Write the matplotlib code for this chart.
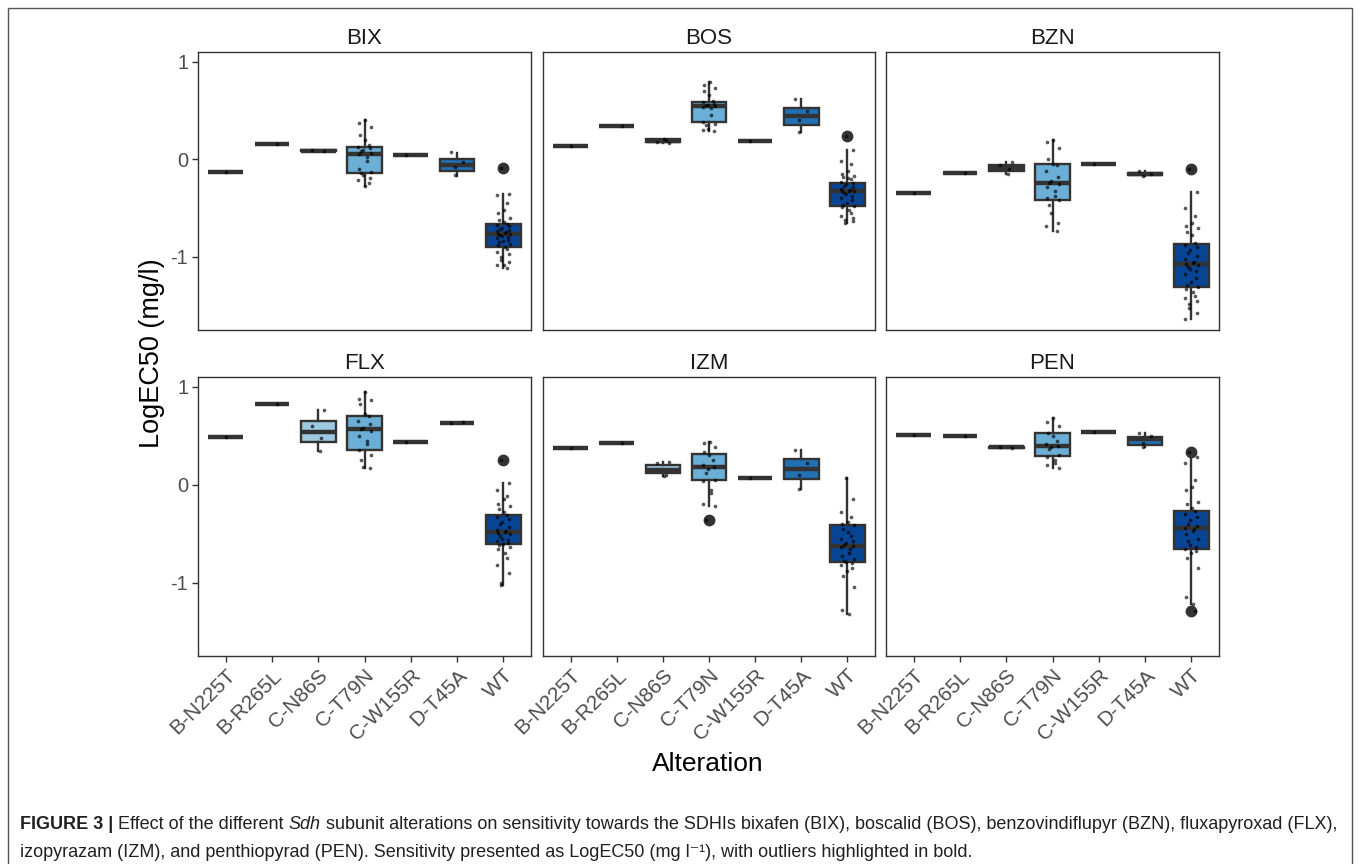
import numpy as np
import matplotlib
matplotlib.use("Agg")
import matplotlib.pyplot as plt
from matplotlib.patches import Rectangle

plt.rcParams["font.family"] = ["Liberation Sans", "DejaVu Sans"]
plt.rcParams["axes.unicode_minus"] = False

categories = ["B-N225T", "B-R265L", "C-N86S", "C-T79N", "C-W155R", "D-T45A", "WT"]
drugs = ["BIX", "BOS", "BZN", "FLX", "IZM", "PEN"]
fills = ["#eff3ff", "#c6dbef", "#9ecae1", "#6baed6", "#4292c6", "#2171b5", "#084594"]

# box stats per category: (whisker low, q1, median, q3, whisker high)
bix_box = [(-0.13, -0.13, -0.13, -0.13, -0.13), (0.16, 0.16, 0.16, 0.16, 0.16),
           (0.08, 0.085, 0.09, 0.095, 0.10), (-0.27, -0.14, 0.055, 0.13, 0.40),
           (0.04, 0.04, 0.04, 0.04, 0.04), (-0.17, -0.12, -0.055, 0.0, 0.06),
           (-1.11, -0.90, -0.77, -0.66, -0.36)]
bix_out = [[], [], [], [], [], [], [-0.09]]
bos_box = [(0.14, 0.14, 0.14, 0.14, 0.14), (0.345, 0.345, 0.345, 0.345, 0.345),
           (0.17, 0.18, 0.19, 0.205, 0.21), (0.29, 0.38, 0.545, 0.585, 0.79),
           (0.19, 0.19, 0.19, 0.19, 0.19), (0.28, 0.35, 0.445, 0.53, 0.62),
           (-0.65, -0.48, -0.32, -0.24, 0.10)]
bos_out = [[], [], [], [], [], [], [0.24]]
bzn_box = [(-0.345, -0.345, -0.345, -0.345, -0.345), (-0.14, -0.14, -0.14, -0.14, -0.14),
           (-0.15, -0.12, -0.09, -0.06, -0.03), (-0.74, -0.42, -0.245, -0.05, 0.195),
           (-0.05, -0.05, -0.05, -0.05, -0.05), (-0.17, -0.165, -0.155, -0.14, -0.12),
           (-1.64, -1.31, -1.07, -0.865, -0.335)]
bzn_out = [[], [], [], [], [], [], [-0.10]]
flx_box = [(0.485, 0.485, 0.485, 0.485, 0.485), (0.82, 0.82, 0.82, 0.82, 0.82),
           (0.34, 0.44, 0.54, 0.65, 0.76), (0.175, 0.35, 0.565, 0.70, 0.95),
           (0.44, 0.44, 0.44, 0.44, 0.44), (0.635, 0.635, 0.635, 0.635, 0.635),
           (-1.02, -0.61, -0.48, -0.31, 0.015)]
flx_out = [[], [], [], [], [], [], [0.25]]
izm_box = [(0.37, 0.37, 0.37, 0.37, 0.37), (0.43, 0.43, 0.43, 0.43, 0.43),
           (0.085, 0.12, 0.155, 0.20, 0.235), (-0.22, 0.045, 0.18, 0.31, 0.44),
           (0.065, 0.065, 0.065, 0.065, 0.065), (-0.04, 0.055, 0.16, 0.26, 0.355),
           (-1.32, -0.79, -0.63, -0.41, 0.065)]
izm_out = [[], [], [], [-0.36], [], [], []]
pen_box = [(0.51, 0.51, 0.51, 0.51, 0.51), (0.50, 0.50, 0.50, 0.50, 0.50),
           (0.37, 0.375, 0.38, 0.385, 0.39), (0.17, 0.29, 0.395, 0.525, 0.68),
           (0.54, 0.54, 0.54, 0.54, 0.54), (0.38, 0.41, 0.47, 0.49, 0.53),
           (-1.22, -0.655, -0.44, -0.265, 0.28)]
pen_out = [[], [], [], [], [], [], [0.335, -1.29]]

bix_pts = [[-0.13], [0.16], [0.08, 0.10],
           [0.40, 0.37, 0.33, 0.25, 0.20, 0.15, 0.13, 0.12, 0.10, 0.08, 0.06, 0.05,
            0.02, -0.02, -0.10, -0.13, -0.14, -0.16, -0.19, -0.21, -0.24, -0.27],
           [0.04], [0.07, -0.03, -0.08, -0.16],
           [-0.09, -0.36, -0.37, -0.45, -0.52, -0.55, -0.60, -0.62, -0.64, -0.66, -0.67,
            -0.68, -0.70, -0.71, -0.72, -0.74, -0.75, -0.76, -0.77, -0.77, -0.78, -0.79,
            -0.80, -0.81, -0.83, -0.84, -0.85, -0.87, -0.88, -0.90, -0.92, -0.95, -0.97,
            -1.00, -1.03, -1.05, -1.08, -1.11, -1.08]]
bos_pts = [[0.14], [0.345], [0.17, 0.18, 0.20, 0.21],
           [0.79, 0.76, 0.73, 0.70, 0.66, 0.60, 0.585, 0.57, 0.56, 0.555, 0.55, 0.54,
            0.53, 0.45, 0.38, 0.36, 0.35, 0.31, 0.29, 0.30],
           [0.19], [0.62, 0.50, 0.40, 0.28],
           [0.24, 0.10, -0.02, -0.05, -0.12, -0.15, -0.17, -0.18, -0.19, -0.20, -0.23,
            -0.24, -0.25, -0.27, -0.28, -0.30, -0.31, -0.32, -0.32, -0.33, -0.35, -0.36,
            -0.38, -0.40, -0.42, -0.45, -0.47, -0.48, -0.49, -0.52, -0.55, -0.58, -0.60,
            -0.62, -0.65, -0.63]]
bzn_pts = [[-0.345], [-0.14], [-0.03, -0.06, -0.10, -0.15],
           [0.20, 0.18, 0.12, 0.0, -0.05, -0.06, -0.12, -0.18, -0.22, -0.24, -0.25,
            -0.28, -0.33, -0.38, -0.40, -0.42, -0.47, -0.55, -0.65, -0.68, -0.74],
           [-0.05], [-0.12, -0.15, -0.17],
           [-0.10, -0.335, -0.50, -0.58, -0.65, -0.68, -0.70, -0.75, -0.78, -0.86, -0.88,
            -0.90, -0.93, -0.96, -0.99, -1.02, -1.05, -1.06, -1.07, -1.08, -1.10, -1.12,
            -1.15, -1.18, -1.22, -1.26, -1.29, -1.31, -1.33, -1.36, -1.40, -1.42, -1.45,
            -1.48, -1.52, -1.58, -1.64]]
flx_pts = [[0.485], [0.82], [0.76, 0.60, 0.48, 0.34],
           [0.95, 0.88, 0.87, 0.82, 0.72, 0.70, 0.65, 0.62, 0.58, 0.565, 0.55, 0.50,
            0.45, 0.42, 0.35, 0.30, 0.25, 0.18, 0.175],
           [0.44], [0.63, 0.64],
           [0.25, 0.015, -0.05, -0.12, -0.15, -0.20, -0.22, -0.25, -0.28, -0.31, -0.33,
            -0.35, -0.38, -0.40, -0.43, -0.46, -0.47, -0.48, -0.49, -0.50, -0.52, -0.55,
            -0.57, -0.58, -0.60, -0.61, -0.62, -0.64, -0.66, -0.70, -0.75, -0.82, -0.90,
            -1.00, -1.02]]
izm_pts = [[0.37], [0.43], [0.235, 0.22, 0.10, 0.085],
           [0.44, 0.43, 0.38, 0.33, 0.30, 0.25, 0.20, 0.18, 0.16, 0.12, 0.05, 0.04,
            -0.05, -0.08, -0.20, -0.22, -0.36],
           [0.065], [0.355, 0.22, 0.10, -0.04],
           [0.065, -0.15, -0.28, -0.33, -0.38, -0.40, -0.41, -0.45, -0.48, -0.52, -0.55,
            -0.58, -0.60, -0.62, -0.63, -0.64, -0.66, -0.70, -0.73, -0.76, -0.78, -0.79,
            -0.80, -0.82, -0.85, -0.88, -0.93, -1.05, -1.28, -1.32]]
pen_pts = [[0.51], [0.50], [0.37, 0.39],
           [0.68, 0.64, 0.60, 0.525, 0.50, 0.45, 0.42, 0.40, 0.39, 0.36, 0.30, 0.28,
            0.25, 0.22, 0.20, 0.17],
           [0.54], [0.53, 0.50, 0.43, 0.38],
           [0.335, 0.28, 0.22, 0.05, -0.02, -0.05, -0.18, -0.20, -0.24, -0.27, -0.30,
            -0.33, -0.36, -0.40, -0.42, -0.44, -0.45, -0.47, -0.50, -0.55, -0.58, -0.62,
            -0.64, -0.66, -0.68, -0.70, -0.75, -0.85, -1.15, -1.22, -1.29]]

boxes = [bix_box, bos_box, bzn_box, flx_box, izm_box, pen_box]
outs = [bix_out, bos_out, bzn_out, flx_out, izm_out, pen_out]
points = [bix_pts, bos_pts, bzn_pts, flx_pts, izm_pts, pen_pts]

W, H = 1360, 864
fig = plt.figure(figsize=(W / 100, H / 100), dpi=100)

# frame around the whole figure
fig.patches.append(Rectangle((8 / W, -0.02), (W - 16) / W, 1.02 - 8 / H,
                             transform=fig.transFigure, fill=False,
                             edgecolor="#555555", linewidth=1.0))

col_x = [(198, 531), (543, 875), (886, 1219)]
row_y = [(52, 330), (377, 656)]
dark = "#333333"

for k, drug in enumerate(drugs):
    r, c = divmod(k, 3)
    x0, x1 = col_x[c]
    y0, y1 = row_y[r]
    ax = fig.add_axes([x0 / W, 1 - y1 / H, (x1 - x0) / W, (y1 - y0) / H])

    stats = []
    for (lo, q1, med, q3, hi), fl in zip(boxes[k], outs[k]):
        stats.append(dict(whislo=lo, q1=q1, med=med, q3=q3, whishi=hi, fliers=fl))
    bp = ax.bxp(stats, positions=range(len(categories)), widths=0.75,
                patch_artist=True, showcaps=False,
                boxprops=dict(edgecolor=dark, linewidth=1.7),
                medianprops=dict(color=dark, linewidth=3.2, solid_capstyle="butt"),
                whiskerprops=dict(color=dark, linewidth=1.7),
                flierprops=dict(marker="o", markersize=7.5, markerfacecolor=dark,
                                markeredgecolor=dark))
    for patch, col in zip(bp["boxes"], fills):
        patch.set_facecolor(col)

    for i, vals in enumerate(points[k]):
        n = len(vals)
        off = 0.14 * np.sin(np.arange(n) * 2.39996 + i)
        ax.scatter(i + off, vals, s=7, color="black", alpha=0.65,
                   linewidths=0, zorder=5)

    ax.set_xlim(-0.6, len(categories) - 0.4)
    ax.set_ylim(-1.75, 1.10)
    ax.set_yticks([-1, 0, 1])
    ax.set_xticks(range(len(categories)))
    ax.set_title(drug, fontsize=16, color="#1a1a1a", pad=6)
    for s in ax.spines.values():
        s.set_color(dark)
        s.set_linewidth(1.0)
    ax.tick_params(colors=dark, labelcolor="#4d4d4d", labelsize=14.5, length=4,
                   width=1, pad=3)
    if c == 0:
        ax.set_yticklabels(["-1", "0", "1"])
    else:
        ax.tick_params(axis="y", left=False, labelleft=False)
    if r == 1:
        ax.set_xticklabels(categories, rotation=45, ha="right", va="top",
                           rotation_mode="anchor", fontsize=15)
    else:
        ax.tick_params(axis="x", bottom=False, labelbottom=False)

fig.text(152 / W, 1 - 353 / H, "LogEC50 (mg/l)", rotation=90, fontsize=19.5,
         ha="center", va="center", color="black")
fig.text(708 / W, 1 - 764 / H, "Alteration", fontsize=19,
         ha="center", va="center", color="black")

# caption with bold / italic pieces, chained one after another
cap = fig.add_axes([0, 0, 1, 1])
cap.axis("off")
cap_font = ["Liberation Sans Narrow", "Liberation Sans", "DejaVu Sans"]
cs = 13
cc = "#231f20"


def caption_line(x, y, pieces):
    prev = None
    for txt, kw in pieces:
        if prev is None:
            prev = cap.text(x / W, 1 - y / H, txt, fontsize=cs, family=cap_font,
                            color=cc, va="bottom", ha="left", **kw)
        else:
            prev = cap.annotate(txt, xy=(1, 0), xycoords=prev, fontsize=cs,
                                family=cap_font, color=cc, va="bottom", ha="left",
                                annotation_clip=False, **kw)


caption_line(20, 833, [
    ("FIGURE 3 |", dict(weight="bold")),
    (" Effect of the different ", {}),
    ("Sdh", dict(style="italic")),
    (" subunit alterations on sensitivity towards the SDHIs bixafen (BIX), boscalid (BOS), "
     "benzovindiflupyr (BZN), fluxapyroxad (FLX),", {}),
])
caption_line(20, 861, [
    ("izopyrazam (IZM), and penthiopyrad (PEN). Sensitivity presented as LogEC50 (mg l\u207b\u00b9), "
     "with outliers highlighted in bold.", {}),
])

fig.savefig("out.png", dpi=100)
